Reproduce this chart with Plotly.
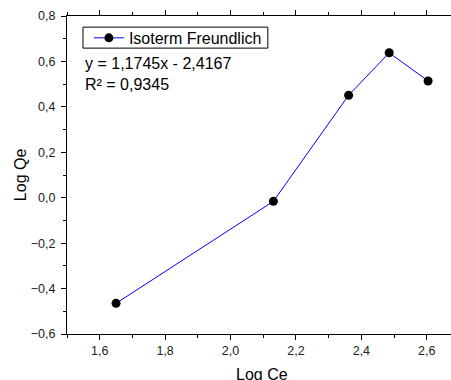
import plotly.graph_objects as go

log_ce = [1.650, 2.131, 2.361, 2.485, 2.604]
log_qe = [-0.465, -0.016, 0.451, 0.638, 0.514]
series_name = "Isoterm Freundlich"
equation_text = "y = 1,1745x - 2,4167"
r2_text = "R² = 0,9345"
x_title = "Log Ce"
y_title = "Log Qe"

FONT = "Arial, Liberation Sans, sans-serif"

fig = go.Figure()
fig.add_trace(go.Scatter(
    x=log_ce, y=log_qe, mode="lines+markers", name=series_name,
    line=dict(color="#0000ff", width=1),
    marker=dict(color="black", size=9),
))

# regression text
fig.add_annotation(xref="paper", yref="paper", x=0.041, y=0.852,
                   text=equation_text, showarrow=False, xanchor="left", yanchor="middle",
                   font=dict(family=FONT, size=16, color="black"))
fig.add_annotation(xref="paper", yref="paper", x=0.041, y=0.786,
                   text=r2_text, showarrow=False, xanchor="left", yanchor="middle",
                   font=dict(family=FONT, size=16, color="black"))
# axis titles
fig.add_annotation(xref="paper", yref="paper", x=0.508, y=-0.128,
                   text=x_title, showarrow=False, xanchor="center", yanchor="middle",
                   font=dict(family=FONT, size=16, color="black"))
fig.add_annotation(xref="paper", yref="paper", x=-0.122, y=0.5,
                   text=y_title, showarrow=False, xanchor="center", yanchor="middle",
                   textangle=-90, font=dict(family=FONT, size=16, color="black"))

# legend frame
fig.add_shape(type="rect", xref="paper", yref="paper",
              x0=0.0417, x1=0.523, y0=0.899, y1=0.965,
              line=dict(color="black", width=1), fillcolor="rgba(0,0,0,0)")

axis_common = dict(showgrid=False, zeroline=False, showline=True, linecolor="black",
                   linewidth=1, ticks="outside", ticklen=5, tickcolor="black",
                   tickfont=dict(family=FONT, size=12.5, color="#222"),
                   tickformat=".1f", automargin=False)

fig.update_xaxes(range=[1.5, 2.674], dtick=0.2, tick0=1.6, mirror="ticks",
                 minor=dict(dtick=0.1, tick0=1.5, ticks="outside", ticklen=3, tickcolor="black"),
                 **axis_common)
fig.update_yaxes(range=[-0.6, 0.8], dtick=0.2, tick0=0, mirror=False,
                 minor=dict(dtick=0.1, tick0=0, ticks="outside", ticklen=3, tickcolor="black"),
                 ticklabelstandoff=3,
                 **axis_common)

fig.update_layout(
    width=451, height=380,
    margin=dict(l=67, r=0, t=16, b=46),
    paper_bgcolor="white", plot_bgcolor="white",
    separators=", ",
    showlegend=True,
    legend=dict(x=0.057, y=0.931, xanchor="left", yanchor="middle",
                borderwidth=0, bgcolor="rgba(0,0,0,0)",
                font=dict(family=FONT, size=16, color="black"),
                itemwidth=30, tracegroupgap=0),
    font=dict(family=FONT),
)

fig.write_html(
    "out.html",
    config={"displayModeBar": False},
    post_script="document.body.style.margin='0';document.body.style.overflow='hidden';",
)
